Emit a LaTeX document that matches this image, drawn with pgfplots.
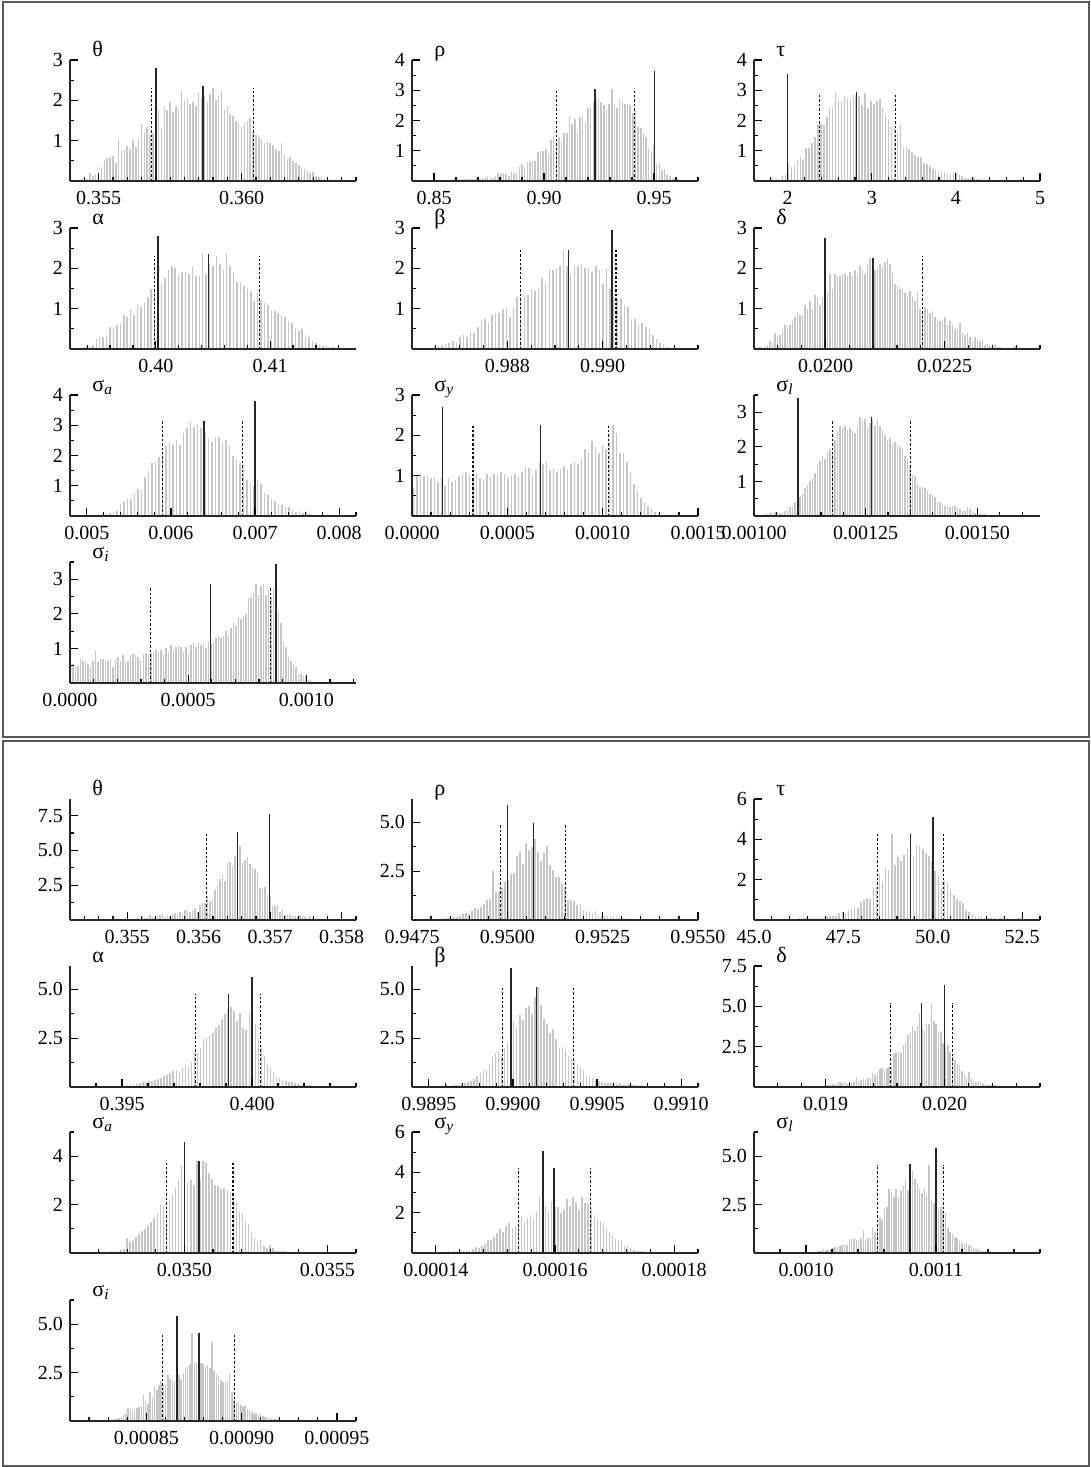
\documentclass[border=0pt]{standalone}
\usepackage{fontspec}
\setmainfont{Liberation Serif}
\usepackage{pgfplots}
\pgfplotsset{compat=1.18}

\pgfplotsset{
  hist/.style={
    scale only axis, width=143pt, height=60.5pt, anchor=south west,
    axis lines=left, axis line style={black!85, line width=0.8pt, -},
    tick align=inside, major tick length=4pt, minor tick length=2.2pt,
    every tick/.style={black, line width=0.6pt},
    tick label style={font=\fontsize{10}{12}\selectfont},
    xticklabel style={yshift=-1.5pt},
    ymin=0, scaled ticks=false, axis on top, clip=false,
    title style={at={(0,1)}, anchor=base west, xshift=11pt, yshift=-4pt,
                 inner sep=0pt, font=\fontsize{11}{13}\selectfont},
  },
  bars/.style={ycomb, gray!45, line width=0.75pt, mark=none},
  ci/.style={black, line width=0.55pt, dash pattern=on 1.2pt off 1pt},
  est/.style={black!85, line width=0.8pt},
}
% posterior histogram: first bin centre, bin width, heights
\newcommand{\hist}[3]{\addplot[bars] table[x expr={#1+\coordindex*#2}, y index=0, header=false, row sep=\\] {#3};}
% vertical marker line: style, position, height
\newcommand{\vl}[3]{\addplot[#1] coordinates {(#2,0) (#2,#3)};}

\begin{document}
\begin{tikzpicture}
\useasboundingbox (0,0) rectangle (545.5pt,-733.5pt);
\draw[black!65, line width=0.9pt] (1.5pt,-1pt) rectangle (544.5pt,-368.5pt);
\draw[black!65, line width=0.9pt] (1.5pt,-370.5pt) rectangle (544.5pt,-733pt);

% ================= upper block =================
\begin{axis}[hist, at={(35pt,-90.5pt)}, title={θ},
  xmin=0.354, xmax=0.364, ymax=3,
  xtick={0.355,0.360}, xticklabels={0.355,0.360},
  minor xtick={0.354,0.3545,0.3555,0.356,0.3565,0.357,0.3575,0.358,0.3585,0.359,0.3595,0.3605,0.361,0.3615,0.362,0.3625,0.363,0.3635,0.364},
  ytick={1,2,3}, yticklabels={1,2,3}, minor ytick={0.5,1.5,2.5}]
\hist{0.3542}{0.0001}{0.03\\0.03\\0.04\\0.05\\0.04\\0.2\\0.12\\0.18\\0.2\\0.35\\0.52\\0.57\\0.6\\0.62\\0.45\\1.05\\0.75\\0.76\\0.87\\0.8\\1.02\\0.85\\1.05\\1.42\\1.2\\1.35\\1.15\\1.2\\1.6\\1.75\\1.28\\1.85\\1.75\\1.95\\1.7\\1.85\\1.75\\2.25\\2.0\\2.05\\1.9\\1.95\\1.85\\2.2\\2.05\\2.1\\1.95\\2.15\\2.3\\2.0\\2.1\\2.25\\1.75\\1.85\\1.65\\1.6\\1.5\\1.45\\1.35\\1.45\\1.5\\1.55\\1.2\\1.15\\1.1\\1.05\\0.95\\1.0\\0.95\\0.9\\0.8\\0.75\\0.95\\0.65\\0.55\\0.6\\0.5\\0.45\\0.4\\0.35\\0.3\\0.25\\0.2\\0.22\\0.12\\0.1\\0.1\\0.06\\0.05\\0.04\\0.03\\}
\vl{ci}{0.35686}{2.3}\vl{ci}{0.36043}{2.3}
\vl{est}{0.3570}{2.8}\vl{est}{0.35865}{2.35}
\end{axis}

\begin{axis}[hist, at={(206pt,-90.5pt)}, title={ρ},
  xmin=0.84, xmax=0.97, ymax=4,
  xtick={0.85,0.90,0.95}, xticklabels={0.85,0.90,0.95},
  minor xtick={0.84,0.86,0.87,0.88,0.89,0.91,0.92,0.93,0.94,0.96,0.97},
  ytick={1,2,3,4}, yticklabels={1,2,3,4}, minor ytick={0.5,1.5,2.5,3.5}]
\hist{0.854}{0.0012}{0.03\\0.03\\0.04\\0.03\\0.05\\0.04\\0.05\\0.04\\0.05\\0.05\\0.06\\0.05\\0.08\\0.1\\0.08\\0.12\\0.1\\0.15\\0.12\\0.1\\0.15\\0.25\\0.22\\0.28\\0.22\\0.18\\0.3\\0.25\\0.3\\0.45\\0.55\\0.45\\0.62\\0.62\\0.65\\0.65\\0.95\\1.0\\1.0\\1.05\\0.9\\1.35\\1.5\\1.4\\1.45\\1.3\\1.6\\1.6\\2.15\\1.9\\2.05\\1.6\\2.1\\2.15\\1.95\\2.4\\2.45\\2.6\\2.7\\2.7\\2.6\\2.5\\2.35\\2.55\\3.05\\2.55\\2.4\\2.7\\2.6\\2.55\\2.55\\2.5\\2.25\\2.35\\1.8\\1.75\\1.6\\1.45\\1.05\\1.0\\1.2\\0.55\\0.6\\0.35\\0.4\\0.2\\0.15\\0.1\\0.08\\0.05\\}
\vl{ci}{0.9056}{3.05}\vl{ci}{0.9413}{3.05}
\vl{est}{0.9233}{3.05}\vl{est}{0.9502}{3.65}
\end{axis}

\begin{axis}[hist, at={(377pt,-90.5pt)}, title={τ},
  xmin=1.6, xmax=5.0, ymax=4,
  xtick={2,3,4,5}, xticklabels={2,3,4,5},
  minor xtick={1.8,2.2,2.4,2.6,2.8,3.2,3.4,3.6,3.8,4.2,4.4,4.6,4.8},
  ytick={1,2,3,4}, yticklabels={1,2,3,4}, minor ytick={0.5,1.5,2.5,3.5}]
\hist{1.80}{0.035}{0.10\\0.03\\0.05\\0.04\\0.15\\0.2\\0.55\\0.45\\0.5\\0.7\\0.8\\0.7\\1.1\\1.1\\1.25\\1.45\\1.85\\1.9\\1.85\\2.1\\2.45\\2.4\\2.95\\2.65\\2.65\\2.8\\2.75\\2.7\\2.85\\2.85\\2.8\\2.5\\2.9\\2.4\\2.65\\2.55\\2.65\\2.7\\2.4\\2.2\\2.05\\1.8\\1.75\\1.6\\1.85\\1.1\\1.15\\1.05\\0.95\\0.85\\0.8\\0.8\\0.6\\0.55\\0.5\\0.4\\0.35\\0.32\\0.3\\0.3\\0.22\\0.22\\0.25\\0.28\\0.2\\0.15\\0.1\\0.08\\0.08\\0.1\\0.06\\0.05\\0.04\\0.04\\0.03\\0.02\\0.03\\0.03\\0.02\\0.03\\0.02\\0.01\\0.02\\0.01\\0.02\\0.08\\}
\vl{est}{2.0}{3.55}\vl{ci}{2.38}{2.9}
\vl{est}{2.82}{2.95}\vl{ci}{3.28}{2.9}
\end{axis}

\begin{axis}[hist, at={(35pt,-174.5pt)}, title={α},
  xmin=0.3925, xmax=0.4175, ymax=3,
  xtick={0.40,0.41}, xticklabels={0.40,0.41},
  minor xtick={0.394,0.396,0.398,0.402,0.404,0.406,0.408,0.412,0.414,0.416},
  ytick={1,2,3}, yticklabels={1,2,3}, minor ytick={0.5,1.5,2.5}]
\hist{0.3939}{0.0003}{0.05\\0.08\\0.1\\0.25\\0.3\\0.3\\0.35\\0.55\\0.55\\0.6\\0.65\\0.85\\0.8\\1.0\\0.85\\1.1\\1.05\\1.15\\1.3\\1.5\\1.45\\1.55\\1.6\\1.75\\1.95\\2.05\\2.0\\1.85\\1.9\\1.9\\1.85\\2.05\\1.8\\1.8\\2.35\\1.85\\2.1\\2.05\\2.3\\2.1\\1.95\\2.35\\2.05\\1.9\\1.65\\1.65\\1.55\\1.5\\1.45\\1.2\\1.4\\1.2\\1.15\\1.1\\0.95\\0.95\\0.9\\0.85\\0.8\\0.7\\0.65\\0.5\\0.45\\0.5\\0.35\\0.3\\0.2\\0.15\\0.1\\0.08\\0.1\\0.06\\0.05\\0.03\\}
\vl{ci}{0.3999}{2.3}\vl{ci}{0.4091}{2.3}
\vl{est}{0.4002}{2.8}\vl{est}{0.4046}{2.35}
\end{axis}

\begin{axis}[hist, at={(206pt,-174.5pt)}, title={β},
  xmin=0.986, xmax=0.992, ymax=3,
  xtick={0.988,0.990}, xticklabels={0.988,0.990},
  minor xtick={0.9865,0.987,0.9875,0.9885,0.989,0.9895,0.9905,0.991,0.9915,0.992},
  ytick={1,2,3}, yticklabels={1,2,3}, minor ytick={0.5,1.5,2.5}]
\hist{0.98648}{0.000075}{0.05\\0.08\\0.1\\0.12\\0.15\\0.2\\0.15\\0.3\\0.35\\0.3\\0.45\\0.4\\0.55\\0.7\\0.75\\0.65\\0.85\\0.9\\0.9\\1.0\\1.05\\0.8\\1.05\\1.3\\1.3\\1.35\\1.35\\1.5\\1.45\\1.5\\1.75\\1.6\\1.95\\1.95\\2.0\\2.05\\2.45\\2.05\\1.85\\2.05\\2.05\\2.1\\2.0\\2.0\\1.9\\2.05\\1.95\\1.6\\2.0\\1.5\\1.3\\1.25\\1.25\\1.1\\1.05\\0.75\\0.75\\0.6\\0.65\\0.55\\0.5\\0.35\\0.25\\0.15\\0.1\\0.08\\}
\vl{ci}{0.98827}{2.45}\vl{ci}{0.99028}{2.45}
\vl{est}{0.98928}{2.45}\vl{est}{0.99020}{2.95}
\end{axis}

\begin{axis}[hist, at={(377pt,-174.5pt)}, title={δ},
  xmin=0.0185, xmax=0.0245, ymax=3,
  xtick={0.0200,0.0225}, xticklabels={0.0200,0.0225},
  minor xtick={0.019,0.0195,0.0205,0.021,0.0215,0.022,0.023,0.0235,0.024,0.0245},
  ytick={1,2,3}, yticklabels={1,2,3}, minor ytick={0.5,1.5,2.5}]
\hist{0.018626}{0.00005245}{0.05\\0.03\\0.05\\0.1\\0.2\\0.15\\0.4\\0.3\\0.35\\0.5\\0.6\\0.55\\0.6\\0.7\\0.8\\0.9\\0.85\\0.85\\1.1\\1.0\\1.2\\1.0\\1.35\\1.3\\1.1\\1.3\\1.5\\1.4\\1.85\\1.5\\1.85\\1.8\\1.8\\1.85\\1.85\\1.8\\1.9\\1.8\\1.95\\1.8\\2.05\\1.95\\1.85\\2.1\\2.25\\2.0\\1.95\\2.0\\2.1\\2.05\\2.15\\2.25\\2.1\\1.9\\1.6\\1.55\\1.5\\1.5\\1.4\\1.35\\1.45\\1.3\\1.2\\1.45\\1.0\\0.95\\1.05\\1.0\\0.9\\0.95\\0.8\\0.75\\0.7\\0.7\\0.8\\0.6\\0.7\\0.6\\0.5\\0.5\\0.65\\0.4\\0.35\\0.4\\0.3\\0.2\\0.3\\0.25\\0.2\\0.25\\0.1\\0.12\\0.08\\0.1\\0.1\\0.05\\0.05\\0.03\\0.02\\0.02\\0.02\\0.03\\0.08\\}
\vl{ci}{0.0200}{2.3}\vl{ci}{0.02203}{2.3}
\vl{est}{0.01999}{2.75}\vl{est}{0.0210}{2.25}
\end{axis}

\begin{axis}[hist, at={(35pt,-258pt)}, title={σ\textsubscript{\itshape a}},
  xmin=0.0048, xmax=0.0082, ymax=4,
  xtick={0.005,0.006,0.007,0.008}, xticklabels={0.005,0.006,0.007,0.008},
  minor xtick={0.0052,0.0054,0.0056,0.0058,0.0062,0.0064,0.0066,0.0068,0.0072,0.0074,0.0076,0.0078,0.0082},
  ytick={1,2,3,4}, yticklabels={1,2,3,4}, minor ytick={0.5,1.5,2.5,3.5}]
\hist{0.005151}{0.0000417}{0.05\\0.05\\0.08\\0.1\\0.12\\0.15\\0.4\\0.45\\0.55\\0.55\\0.75\\0.9\\0.85\\1.3\\1.5\\1.75\\1.8\\1.95\\2.1\\2.3\\2.45\\2.35\\2.5\\2.35\\2.75\\2.9\\3.15\\2.95\\3.05\\2.9\\2.75\\2.55\\2.45\\2.6\\2.6\\2.45\\2.5\\2.3\\2.0\\1.9\\1.75\\1.6\\1.2\\1.05\\1.0\\1.2\\1.05\\0.75\\0.7\\0.55\\0.5\\0.35\\0.35\\0.3\\0.3\\0.2\\0.12\\0.15\\0.1\\0.15\\0.08\\0.05\\}
\vl{ci}{0.0059}{3.15}\vl{ci}{0.00685}{3.15}
\vl{est}{0.00639}{3.15}\vl{est}{0.0070}{3.8}
\end{axis}

\begin{axis}[hist, at={(206pt,-258pt)}, title={σ\textsubscript{\itshape y}},
  xmin=0, xmax=0.0015, ymax=3,
  xtick={0,0.0005,0.0010,0.0015}, xticklabels={0.0000,0.0005,0.0010,0.0015},
  minor xtick={0.0001,0.0002,0.0003,0.0004,0.0006,0.0007,0.0008,0.0009,0.0011,0.0012,0.0013,0.0014},
  ytick={1,2,3}, yticklabels={1,2,3}, minor ytick={0.5,1.5,2.5}]
\hist{0.0000074}{0.00001838}{0.7\\1.0\\1.05\\1.0\\1.0\\0.95\\0.95\\0.85\\0.95\\0.75\\0.95\\0.85\\0.9\\1.0\\1.05\\1.1\\1.05\\0.9\\1.05\\0.95\\0.9\\1.05\\1.0\\1.05\\1.05\\1.1\\1.05\\0.95\\1.0\\1.05\\1.0\\1.1\\1.25\\1.2\\1.05\\1.15\\1.35\\1.3\\1.35\\1.15\\1.2\\1.1\\1.2\\1.25\\1.15\\1.3\\1.35\\1.3\\1.45\\1.65\\1.55\\1.85\\1.7\\1.55\\1.75\\1.65\\1.85\\2.25\\2.05\\1.55\\1.55\\1.35\\1.1\\0.8\\0.65\\0.45\\0.35\\0.25\\0.2\\0.1\\0.05\\0.03\\}
\vl{ci}{0.00032}{2.25}\vl{ci}{0.00103}{2.25}
\vl{est}{0.00016}{2.7}\vl{est}{0.000674}{2.25}
\end{axis}

\begin{axis}[hist, at={(377pt,-258pt)}, title={σ\textsubscript{\itshape l}},
  xmin=0.001, xmax=0.00164, ymax=3.5,
  xtick={0.001,0.00125,0.0015}, xticklabels={0.00100,0.00125,0.00150},
  minor xtick={0.00105,0.0011,0.00115,0.0012,0.0013,0.00135,0.0014,0.00145,0.00155,0.0016},
  ytick={1,2,3}, yticklabels={1,2,3}, minor ytick={0.5,1.5,2.5,3.5}]
\hist{0.0010134}{0.0000056}{0.03\\0.03\\0.05\\0.05\\0.08\\0.06\\0.12\\0.1\\0.1\\0.12\\0.15\\0.2\\0.25\\0.3\\0.4\\0.45\\0.55\\0.65\\0.8\\0.9\\1.0\\1.1\\1.25\\1.5\\1.6\\1.75\\1.65\\1.85\\1.9\\1.8\\2.2\\2.45\\2.6\\2.55\\2.6\\2.5\\2.55\\2.45\\2.4\\2.55\\2.85\\2.75\\2.8\\2.55\\2.7\\2.8\\2.6\\2.8\\2.6\\2.5\\2.35\\2.2\\2.25\\2.1\\2.15\\2.05\\2.0\\1.95\\1.75\\1.65\\1.45\\1.2\\1.15\\0.95\\0.85\\0.85\\0.8\\0.75\\0.65\\0.6\\0.55\\0.4\\0.4\\0.35\\0.3\\0.25\\0.25\\0.3\\0.3\\0.25\\0.2\\0.15\\0.15\\0.25\\0.2\\0.15\\0.1\\0.08\\0.05\\0.06\\0.05\\0.04\\0.04\\0.03\\0.03\\0.02\\0.03\\}
\vl{ci}{0.001175}{2.8}\vl{ci}{0.001351}{2.8}
\vl{est}{0.001098}{3.4}\vl{est}{0.001263}{2.85}
\end{axis}

\begin{axis}[hist, at={(35pt,-341.5pt)}, title={σ\textsubscript{\itshape i}},
  xmin=0, xmax=0.00121, ymax=3.5,
  xtick={0,0.0005,0.0010}, xticklabels={0.0000,0.0005,0.0010},
  minor xtick={0.0001,0.0002,0.0003,0.0004,0.0006,0.0007,0.0008,0.0009,0.0011,0.0012},
  ytick={1,2,3}, yticklabels={1,2,3}, minor ytick={0.5,1.5,2.5,3.5}]
\hist{0.0000028}{0.00001059}{0.25\\0.55\\0.45\\0.5\\0.7\\0.65\\0.6\\0.55\\0.5\\0.65\\0.95\\0.6\\0.7\\0.7\\0.65\\0.65\\0.7\\0.45\\0.7\\0.75\\0.65\\0.8\\0.6\\0.65\\0.8\\0.85\\0.8\\0.75\\0.65\\0.85\\0.85\\0.8\\0.88\\0.9\\0.95\\0.9\\0.95\\0.85\\1.0\\0.9\\1.1\\0.95\\1.05\\1.1\\1.05\\0.9\\1.05\\0.85\\1.1\\1.15\\1.05\\1.2\\1.1\\1.15\\1.0\\1.2\\1.15\\1.2\\1.3\\1.35\\1.3\\1.35\\1.5\\1.4\\1.6\\1.75\\1.65\\1.9\\1.85\\1.95\\2.0\\2.45\\2.5\\2.6\\2.85\\2.55\\2.8\\2.85\\2.55\\2.65\\2.5\\2.75\\2.1\\2.05\\1.75\\1.2\\1.05\\0.75\\0.65\\0.55\\0.45\\0.25\\0.25\\0.2\\0.2\\0.1\\0.05\\0.04\\0.03\\0.02\\0.02\\0.02\\0.01\\0.02\\0.01\\}
\vl{ci}{0.00034}{2.8}\vl{ci}{0.000849}{2.8}
\vl{est}{0.000594}{2.85}\vl{est}{0.000871}{3.45}
\end{axis}

% ================= lower block =================
\begin{axis}[hist, at={(35pt,-460pt)}, title={θ},
  xmin=0.3542, xmax=0.3582, ymax=8.7,
  xtick={0.355,0.356,0.357,0.358}, xticklabels={0.355,0.356,0.357,0.358},
  minor xtick={0.3544,0.3546,0.3548,0.3552,0.3554,0.3556,0.3558,0.3562,0.3564,0.3566,0.3568,0.3572,0.3574,0.3576,0.3578,0.3582},
  ytick={2.5,5,7.5}, yticklabels={2.5,5.0,7.5}, minor ytick={1.25,3.75,6.25}]
\hist{0.355039}{0.000035}{0.1\\0.05\\0.1\\0.15\\0.1\\0.2\\0.15\\0.2\\0.35\\0.2\\0.25\\0.3\\0.35\\0.4\\0.25\\0.35\\0.3\\0.45\\0.5\\0.45\\0.55\\0.5\\0.7\\0.75\\0.6\\0.7\\0.85\\0.6\\1.1\\1.2\\1.25\\1.7\\1.4\\1.45\\2.15\\2.45\\2.95\\3.25\\2.8\\4.1\\4.2\\3.9\\4.6\\6.3\\5.3\\4.1\\4.3\\4.5\\4.0\\3.75\\3.7\\3.35\\2.3\\2.2\\2.4\\1.8\\1.75\\0.9\\1.0\\1.05\\0.6\\0.75\\0.35\\0.35\\0.35\\0.35\\0.3\\0.25\\0.35\\0.3\\0.25\\0.15\\0.3\\0.15\\0.1\\0.1\\0.08\\0.1\\0.05\\0.08\\0.05\\0.05\\}
\vl{ci}{0.35611}{6.2}
\vl{est}{0.356545}{6.35}\vl{est}{0.35699}{7.6}
\end{axis}

\begin{axis}[hist, at={(206pt,-460pt)}, title={ρ},
  xmin=0.9475, xmax=0.955, ymax=6.2,
  xtick={0.9475,0.95,0.9525,0.955}, xticklabels={0.9475,0.9500,0.9525,0.9550},
  minor xtick={0.948,0.9485,0.949,0.9495,0.9505,0.951,0.9515,0.952,0.953,0.9535,0.954,0.9545},
  ytick={2.5,5}, yticklabels={2.5,5.0}, minor ytick={1.25,3.75}]
\hist{0.948204}{0.0000789}{0.05\\0.05\\0.1\\0.08\\0.1\\0.15\\0.15\\0.2\\0.3\\0.35\\0.3\\0.45\\0.6\\0.55\\0.65\\0.8\\1.0\\1.1\\2.5\\1.45\\1.45\\1.65\\1.95\\2.0\\2.35\\2.4\\3.3\\3.5\\2.85\\3.95\\3.6\\3.75\\4.15\\3.5\\3.0\\3.45\\3.8\\2.8\\2.55\\2.2\\2.2\\1.85\\1.65\\1.05\\1.0\\0.95\\0.75\\0.8\\0.5\\0.45\\0.4\\0.35\\0.45\\0.25\\0.2\\0.2\\0.2\\0.15\\0.2\\0.1\\0.15\\0.1\\0.1\\0.12\\0.05\\0.05\\}
\vl{ci}{0.94983}{4.95}\vl{ci}{0.95153}{4.95}
\vl{est}{0.9500}{5.9}\vl{est}{0.95069}{4.95}
\end{axis}

\begin{axis}[hist, at={(377pt,-460pt)}, title={τ},
  xmin=45, xmax=53, ymax=6,
  xtick={45,47.5,50,52.5}, xticklabels={45.0,47.5,50.0,52.5},
  minor xtick={45.5,46,46.5,47,48,48.5,49,49.5,50.5,51,51.5,52,53},
  ytick={2,4,6}, yticklabels={2,4,6}, minor ytick={1,3,5}]
\hist{45.478}{0.0866}{0.05\\0.03\\0.04\\0.03\\0.05\\0.04\\0.05\\0.06\\0.05\\0.08\\0.06\\0.08\\0.08\\0.1\\0.08\\0.1\\0.12\\0.1\\0.15\\0.2\\0.2\\0.2\\0.35\\0.4\\0.3\\0.5\\0.55\\0.6\\0.6\\0.9\\1.0\\1.1\\1.05\\1.6\\1.65\\2.3\\1.9\\2.65\\2.5\\4.25\\2.75\\3.1\\2.95\\3.2\\3.5\\2.5\\3.15\\3.7\\3.65\\3.5\\3.3\\3.15\\2.95\\2.45\\2.25\\1.6\\1.95\\1.85\\1.5\\1.25\\1.05\\0.95\\0.85\\0.5\\0.4\\0.3\\0.2\\0.2\\0.15\\0.12\\0.1\\0.08\\0.1\\0.06\\0.08\\0.1\\0.04\\0.05\\0.03\\0.04\\0.1\\}
\vl{ci}{48.46}{4.25}\vl{ci}{50.29}{4.25}
\vl{est}{49.38}{4.25}\vl{est}{50.0}{5.1}
\end{axis}

\begin{axis}[hist, at={(35pt,-543.5pt)}, title={α},
  xmin=0.393, xmax=0.404, ymax=6.2,
  xtick={0.395,0.400}, xticklabels={0.395,0.400},
  minor xtick={0.394,0.396,0.397,0.398,0.399,0.401,0.402,0.403,0.404},
  ytick={2.5,5}, yticklabels={2.5,5.0}, minor ytick={1.25,3.75}]
\hist{0.395215}{0.000117}{0.1\\0.12\\0.15\\0.2\\0.22\\0.25\\0.25\\0.3\\0.3\\0.35\\0.4\\0.45\\0.55\\0.6\\0.7\\0.8\\0.85\\0.7\\0.95\\1.15\\1.05\\1.3\\1.75\\1.7\\2.0\\2.45\\2.5\\2.6\\2.75\\3.0\\3.2\\3.5\\3.75\\4.0\\4.1\\3.9\\3.4\\3.8\\3.0\\2.9\\3.8\\4.2\\3.25\\2.45\\2.1\\1.6\\1.2\\1.0\\0.75\\0.5\\0.45\\0.35\\0.3\\0.25\\0.25\\0.2\\0.15\\0.12\\0.1\\0.08\\0.08\\0.05\\0.05\\}
\vl{ci}{0.39783}{4.75}\vl{ci}{0.40031}{4.75}
\vl{est}{0.39909}{4.75}\vl{est}{0.39999}{5.65}
\end{axis}

\begin{axis}[hist, at={(206pt,-543.5pt)}, title={β},
  xmin=0.9894, xmax=0.9911, ymax=6.2,
  xtick={0.9895,0.9900,0.9905,0.9910}, xticklabels={0.9895,0.9900,0.9905,0.9910},
  minor xtick={0.9896,0.9897,0.9898,0.9899,0.9901,0.9902,0.9903,0.9904,0.9906,0.9907,0.9908,0.9909,0.9911},
  ytick={2.5,5}, yticklabels={2.5,5.0}, minor ytick={1.25,3.75}]
\hist{0.989553}{0.00001806}{0.05\\0.04\\0.05\\0.08\\0.06\\0.1\\0.08\\0.12\\0.15\\0.2\\0.25\\0.3\\0.4\\0.55\\0.7\\0.85\\0.85\\1.15\\1.6\\1.75\\1.85\\1.6\\2.0\\2.3\\2.7\\3.4\\3.0\\3.7\\3.45\\4.05\\4.15\\3.75\\4.6\\5.15\\4.2\\3.5\\3.25\\2.75\\2.95\\2.45\\2.0\\2.05\\1.9\\1.6\\1.45\\1.4\\1.2\\1.0\\0.85\\0.55\\0.5\\0.45\\0.3\\0.3\\0.25\\0.2\\0.2\\0.2\\0.15\\0.15\\0.2\\0.1\\0.1\\0.15\\0.1\\0.08\\0.1\\0.1\\0.06\\0.08\\0.05\\0.05\\}
\vl{ci}{0.98994}{5.1}\vl{ci}{0.99036}{5.1}
\vl{est}{0.98999}{6.1}\vl{est}{0.99014}{5.15}
\end{axis}

\begin{axis}[hist, at={(377pt,-543.5pt)}, title={δ},
  xmin=0.0184, xmax=0.0208, ymax=7.5,
  xtick={0.019,0.020}, xticklabels={0.019,0.020},
  minor xtick={0.0186,0.0188,0.0192,0.0194,0.0196,0.0198,0.0202,0.0204,0.0206,0.0208},
  ytick={2.5,5,7.5}, yticklabels={2.5,5.0,7.5}, minor ytick={1.25,3.75,6.25}]
\hist{0.018963}{0.0000197}{0.05\\0.05\\0.08\\0.1\\0.1\\0.2\\0.15\\0.25\\0.3\\0.25\\0.3\\0.2\\0.3\\0.25\\0.3\\0.6\\0.35\\0.45\\0.5\\0.45\\0.55\\0.55\\0.85\\0.75\\0.9\\1.1\\1.2\\1.05\\1.15\\1.25\\1.3\\2.05\\2.2\\2.2\\2.1\\2.6\\2.8\\3.2\\3.35\\3.7\\3.5\\3.8\\4.6\\3.6\\3.5\\3.9\\3.9\\5.2\\4.1\\3.9\\3.5\\3.4\\2.7\\2.5\\2.6\\2.2\\1.95\\1.65\\1.45\\1.35\\1.0\\0.75\\0.5\\0.95\\0.55\\0.4\\0.3\\0.35\\0.3\\0.2\\0.2\\0.15\\0.1\\0.12\\0.1\\0.05\\0.05\\0.03\\0.04\\0.03\\0.02\\0.03\\0.02\\0.03\\}
\vl{ci}{0.019548}{5.2}\vl{ci}{0.020068}{5.2}
\vl{est}{0.019807}{5.2}\vl{est}{0.019998}{6.3}
\end{axis}

\begin{axis}[hist, at={(35pt,-626.5pt)}, title={σ\textsubscript{\itshape a}},
  xmin=0.0346, xmax=0.0356, ymax=5,
  xtick={0.0350,0.0355}, xticklabels={0.0350,0.0355},
  minor xtick={0.0347,0.0348,0.0349,0.0351,0.0352,0.0353,0.0354,0.0356},
  ytick={2,4}, yticklabels={2,4}, minor ytick={1,3,5}]
\hist{0.034703}{0.00001064}{0.1\\0.05\\0.05\\0.06\\0.08\\0.1\\0.1\\0.12\\0.15\\0.6\\0.45\\0.5\\0.65\\0.8\\0.9\\1.0\\1.1\\1.3\\1.45\\1.6\\2.0\\2.0\\1.9\\2.25\\2.4\\2.7\\3.0\\3.65\\2.9\\2.9\\3.0\\2.8\\3.8\\3.0\\3.8\\3.7\\3.3\\3.05\\2.8\\2.75\\2.65\\2.7\\2.6\\2.5\\2.3\\2.05\\1.75\\1.6\\1.3\\1.2\\0.85\\0.6\\0.45\\0.55\\0.3\\0.2\\0.35\\0.2\\0.1\\0.1\\0.08\\0.08\\0.05\\0.05\\0.03\\0.03\\}
\vl{ci}{0.034936}{3.8}\vl{ci}{0.03517}{3.8}
\vl{est}{0.0350}{4.6}\vl{est}{0.035052}{3.8}
\end{axis}

\begin{axis}[hist, at={(206pt,-626.5pt)}, title={σ\textsubscript{\itshape y}},
  xmin=0.000136, xmax=0.000184, ymax=6,
  xtick={0.00014,0.00016,0.00018}, xticklabels={0.00014,0.00016,0.00018},
  minor xtick={0.000144,0.000148,0.000152,0.000156,0.000164,0.000168,0.000172,0.000176,0.000184},
  ytick={2,4,6}, yticklabels={2,4,6}, minor ytick={1,3,5}]
\hist{0.0001411}{0.0000005098}{0.05\\0.04\\0.08\\0.06\\0.1\\0.08\\0.1\\0.12\\0.15\\0.1\\0.2\\0.3\\0.25\\0.35\\0.45\\0.65\\0.65\\0.8\\1.0\\1.2\\1.05\\1.35\\1.5\\1.25\\1.35\\1.6\\1.85\\1.55\\1.75\\1.9\\1.7\\2.05\\2.8\\2.05\\2.35\\2.05\\2.6\\2.3\\2.3\\2.0\\2.15\\2.7\\2.35\\2.8\\2.55\\2.15\\2.8\\2.5\\2.45\\2.2\\1.9\\1.7\\1.6\\1.5\\1.2\\1.0\\0.85\\0.7\\0.65\\0.6\\0.35\\0.35\\0.25\\0.15\\0.1\\0.1\\0.08\\0.06\\0.05\\0.05\\}
\vl{ci}{0.0001538}{4.2}\vl{ci}{0.000166}{4.2}
\vl{est}{0.000158}{5.05}\vl{est}{0.0001598}{4.2}
\end{axis}

\begin{axis}[hist, at={(377pt,-626.5pt)}, title={σ\textsubscript{\itshape l}},
  xmin=0.00096, xmax=0.00118, ymax=6.25,
  xtick={0.0010,0.0011}, xticklabels={0.0010,0.0011},
  minor xtick={0.00098,0.00102,0.00104,0.00106,0.00108,0.00112,0.00114,0.00116,0.00118},
  ytick={2.5,5}, yticklabels={2.5,5.0}, minor ytick={1.25,3.75,6.25}]
\hist{0.0010026}{0.000001805}{0.05\\0.04\\0.05\\0.06\\0.08\\0.1\\0.2\\0.15\\0.15\\0.2\\0.25\\0.3\\0.3\\0.35\\0.4\\0.45\\0.4\\0.65\\0.7\\0.7\\0.65\\0.6\\0.75\\1.2\\0.6\\0.75\\0.8\\1.35\\1.1\\1.5\\1.8\\1.7\\2.35\\2.4\\3.3\\3.15\\2.9\\3.3\\2.9\\3.2\\3.45\\3.75\\3.25\\3.9\\4.25\\3.8\\3.6\\3.3\\3.1\\3.35\\2.95\\4.55\\2.75\\2.6\\2.5\\2.25\\2.4\\2.2\\2.1\\1.3\\1.1\\1.0\\0.85\\0.8\\0.6\\0.5\\0.45\\0.55\\0.4\\0.35\\0.25\\0.2\\0.2\\0.15\\0.12\\0.1\\0.12\\0.08\\0.05\\0.03\\}
\vl{ci}{0.001055}{4.55}\vl{ci}{0.0011057}{4.55}
\vl{est}{0.00108}{4.6}\vl{est}{0.0011}{5.45}
\end{axis}

\begin{axis}[hist, at={(35pt,-710.5pt)}, title={σ\textsubscript{\itshape i}},
  xmin=0.00081, xmax=0.00096, ymax=6.25,
  xtick={0.00085,0.00090,0.00095}, xticklabels={0.00085,0.00090,0.00095},
  minor xtick={0.00082,0.00083,0.00084,0.00086,0.00087,0.00088,0.00089,0.00091,0.00092,0.00093,0.00094,0.00096},
  ytick={2.5,5}, yticklabels={2.5,5.0}, minor ytick={1.25,3.75,6.25}]
\hist{0.00083002}{0.000001159}{0.05\\0.05\\0.06\\0.1\\0.12\\0.15\\0.2\\0.3\\0.35\\0.65\\0.6\\0.5\\0.55\\0.65\\0.7\\0.8\\1.35\\1.05\\0.9\\1.5\\1.2\\1.8\\1.6\\1.85\\2.05\\1.9\\1.85\\2.4\\2.15\\2.05\\2.0\\2.2\\2.4\\2.15\\2.5\\2.7\\2.85\\2.95\\4.55\\3.0\\3.0\\2.9\\3.0\\2.95\\2.85\\2.9\\2.75\\4.1\\2.6\\2.45\\2.3\\2.1\\2.0\\2.0\\2.05\\2.45\\1.5\\1.1\\0.95\\1.05\\0.85\\0.7\\0.75\\0.6\\0.55\\0.45\\0.35\\0.4\\0.3\\0.35\\0.25\\0.2\\0.2\\0.15\\0.15\\0.1\\0.08\\0.1\\0.06\\0.05\\0.05\\0.04\\0.05\\0.03\\0.04\\0.03\\0.08\\}
\vl{ci}{0.0008585}{4.5}\vl{ci}{0.0008962}{4.5}
\vl{est}{0.000866}{5.45}\vl{est}{0.0008776}{4.55}
\end{axis}
\end{tikzpicture}
\end{document}
